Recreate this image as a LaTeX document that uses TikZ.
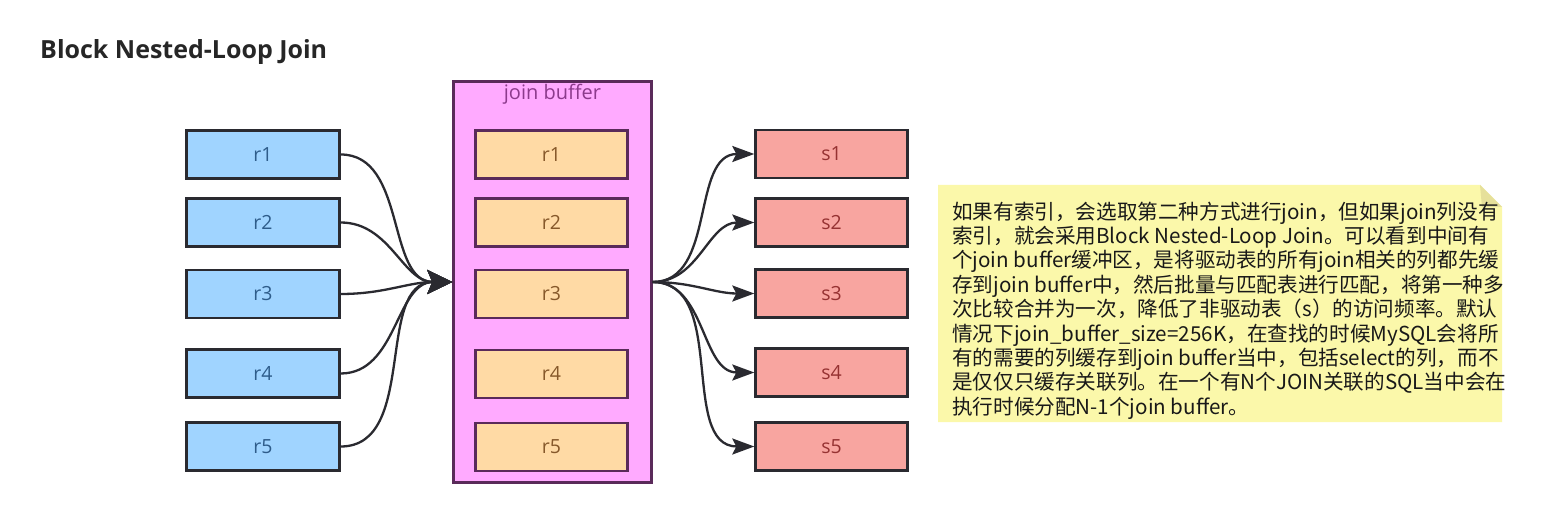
\documentclass[tikz,border=0pt]{standalone}
\usepackage{fontspec}
\setmainfont{Open Sans}
\newfontfamily\cjk{Noto Sans CJK SC}
\usetikzlibrary{arrows.meta}
\definecolor{bluefill}{HTML}{A0D4FF}
\definecolor{bluetext}{HTML}{2E5C8A}
\definecolor{orfill}{HTML}{FFDAA5}
\definecolor{ortext}{HTML}{86582A}
\definecolor{pkfill}{HTML}{FFAAFF}
\definecolor{pkdraw}{HTML}{5A2A5A}
\definecolor{pktext}{HTML}{8C3A8C}
\definecolor{rdfill}{HTML}{F8A5A0}
\definecolor{rdtext}{HTML}{963232}
\definecolor{notefill}{HTML}{FBF8AA}
\definecolor{notefold}{HTML}{E6E09A}
\definecolor{edge}{HTML}{2A2A30}
\tikzset{
  box/.style={draw=edge, line width=2.4pt, minimum height=48pt, inner sep=0pt,
    font=\fontsize{19.5}{22}\selectfont},
  rbox/.style={box, fill=bluefill, text=bluetext, minimum width=153pt},
  obox/.style={box, fill=orfill, text=ortext, minimum width=152pt, draw=pkdraw},
  sbox/.style={box, fill=rdfill, text=rdtext, minimum width=152pt},
  inconn/.style={draw=edge, line width=2.3pt, -{Stealth[length=25pt,width=24pt,inset=5pt]}},
  outconn/.style={draw=edge, line width=2.3pt, -{Stealth[length=22pt,width=16pt,inset=4pt]}},
}
\begin{document}
\begin{tikzpicture}[x=1pt,y=-1pt]
\useasboundingbox (0,0) rectangle (1557,518);
\fill[white] (0,0) rectangle (1557,518);
% title
\node[anchor=west, inner sep=0pt, font=\fontsize{25}{30}\selectfont\bfseries, text=black!85] (title) at (40,52) {Block Nested-Loop Join};
% join buffer
\node[draw=pkdraw, fill=pkfill, line width=2.4pt, minimum width=198pt, minimum height=401pt, inner sep=0pt] (buf) at (552.5,282) {};
\node[text=pktext, font=\fontsize{20}{22}\selectfont, inner sep=0pt] (buflabel) at (552.5,94) {join buffer};
% left boxes
\node[rbox] (r1) at (263,154.5) {r1};
\node[rbox] (r2) at (263,222.5) {r2};
\node[rbox] (r3) at (263,294) {r3};
\node[rbox] (r4) at (263,373.5) {r4};
\node[rbox] (r5) at (263,446.5) {r5};
% buffer boxes
\node[obox] (b1) at (551.5,154.5) {r1};
\node[obox] (b2) at (551.5,222.5) {r2};
\node[obox] (b3) at (551.5,294) {r3};
\node[obox] (b4) at (551.5,374) {r4};
\node[obox] (b5) at (551.5,447) {r5};
% right boxes
\node[sbox] (s1) at (831.5,154) {s1};
\node[sbox] (s2) at (831.5,222.5) {s2};
\node[sbox] (s3) at (831.5,293.5) {s3};
\node[sbox] (s4) at (831.5,372.5) {s4};
\node[sbox] (s5) at (831.5,446.5) {s5};
% connectors
\foreach \i in {1,...,5}{
  \draw[inconn] (r\i.east) to[out=0,in=180] (buf.west);
  \draw[outconn] (buf.east) to[out=0,in=180] (s\i.west);
}
% note
\fill[notefill] (938,185) -- (1480,185) -- (1502,207) -- (1502,422) -- (938,422) -- cycle;
\fill[notefold] (1480,185) -- (1502,207) -- (1482,207) -- cycle;
\node[anchor=west, align=left, inner sep=0pt, text=black!90,
  font=\cjk\fontsize{20.6}{24.4}\selectfont] (note) at (952,310.5) {%
如果有索引，会选取第二种方式进行join，但如果join列没有\\
索引，就会采用Block Nested-Loop Join。可以看到中间有\\
个join buffer缓冲区，是将驱动表的所有join相关的列都先缓\\
存到join buffer中，然后批量与匹配表进行匹配，将第一种多\\
次比较合并为一次，降低了非驱动表（s）的访问频率。默认\\
情况下join\_buffer\_size=256K，在查找的时候MySQL会将所\\
有的需要的列缓存到join buffer当中，包括select的列，而不\\
是仅仅只缓存关联列。在一个有N个JOIN关联的SQL当中会在\\
执行时候分配N-1个join buffer。};
\end{tikzpicture}
\end{document}
